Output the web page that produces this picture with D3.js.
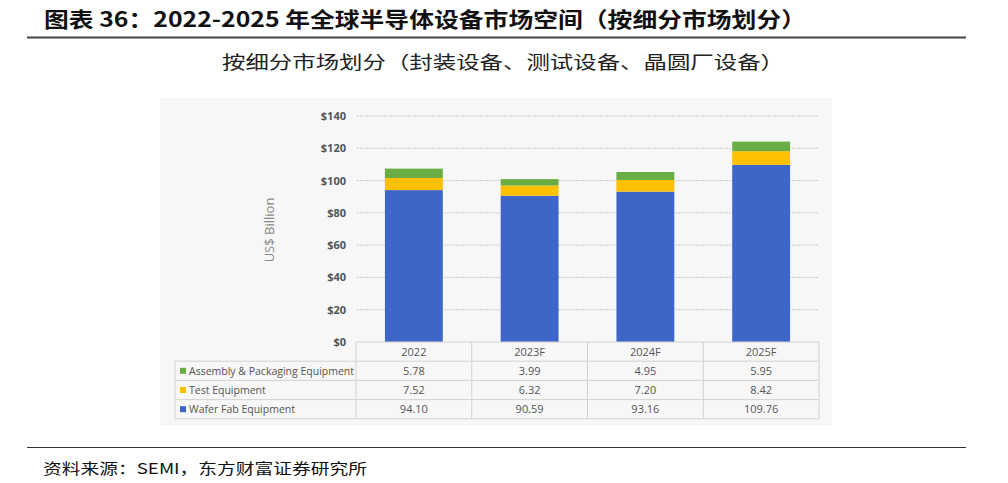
<!DOCTYPE html>
<html>
<head>
<meta charset="utf-8">
<script src="https://cdn.jsdelivr.net/npm/d3@7"></script>
<style>
  body { margin: 0; background: #fff; }
  svg { display: block; }
</style>
</head>
<body>
<script>
// Data
var categories = ["2022", "2023F", "2024F", "2025F"];
var seriesNames = ["Wafer Fab Equipment", "Test Equipment", "Assembly & Packaging Equipment"];
var waferFab = [94.10, 90.59, 93.16, 109.76];
var testEquip = [7.52, 6.32, 7.20, 8.42];
var assembly = [5.78, 3.99, 4.95, 5.95];
var yTicks = [0, 20, 40, 60, 80, 100, 120, 140];
var colors = ["#3d66c8", "#ffc000", "#6aad45"];

var width = 1008, height = 483;

var svg = d3.select("body").append("svg")
  .attr("width", width)
  .attr("height", height);

// Header
svg.append("text")
  .attr("x", 44).attr("y", 27)
  .attr("textLength", 762)
  .attr("lengthAdjust", "spacingAndGlyphs")
  .style("font-family", "'Noto Sans CJK SC', sans-serif")
  .style("font-weight", "bold")
  .style("font-size", "21px")
  .attr("fill", "#111")
  .text("图表 36：2022-2025 年全球半导体设备市场空间（按细分市场划分）");

svg.append("line")
  .attr("x1", 27).attr("x2", 966)
  .attr("y1", 37.5).attr("y2", 37.5)
  .attr("stroke", "#444").attr("stroke-width", 2);

svg.append("text")
  .attr("x", 222).attr("y", 69)
  .attr("textLength", 562)
  .attr("lengthAdjust", "spacingAndGlyphs")
  .style("font-family", "'Noto Sans CJK SC', sans-serif")
  .style("font-size", "18px")
  .attr("fill", "#222")
  .text("按细分市场划分（封装设备、测试设备、晶圆厂设备）");

// Chart panel
svg.append("rect")
  .attr("x", 160).attr("y", 98)
  .attr("width", 672).attr("height", 328)
  .attr("fill", "#f7f7f7");

// Scales
var x = d3.scaleBand()
  .domain(categories)
  .range([356, 819])
  .paddingInner(0.5)
  .paddingOuter(0.25);

var bandX = d3.scaleBand().domain(categories).range([356, 819]);

var y = d3.scaleLinear().domain([0, 140]).range([342, 116]);

// Gridlines
svg.append("g").selectAll("line")
  .data(yTicks.slice(1))
  .enter().append("line")
  .attr("x1", 357).attr("x2", 819)
  .attr("y1", function(d) { return y(d); })
  .attr("y2", function(d) { return y(d); })
  .attr("stroke", "#c9c9c9")
  .attr("stroke-dasharray", "2,1");

// Y axis labels
var yAxis = d3.axisLeft(y).tickValues(yTicks).tickSize(0).tickPadding(10)
  .tickFormat(function(d) { return "$" + d; });
var yg = svg.append("g").attr("transform", "translate(356,0)").call(yAxis);
yg.select(".domain").remove();
yg.selectAll("text")
  .style("font-family", "'Open Sans', sans-serif")
  .style("font-size", "11px")
  .style("font-weight", "bold")
  .attr("fill", "#555");

svg.append("text")
  .attr("transform", "translate(274,230) rotate(-90)")
  .attr("text-anchor", "middle")
  .style("font-family", "'Open Sans', sans-serif")
  .style("font-size", "13px")
  .attr("fill", "#888")
  .text("US$ Billion");

// Stacked bars
var rows = categories.map(function(c, i) {
  return { cat: c, wafer: waferFab[i], test: testEquip[i], assembly: assembly[i] };
});
var stack = d3.stack().keys(["wafer", "test", "assembly"]);
var layers = stack(rows);

svg.append("g").selectAll("g")
  .data(layers)
  .enter().append("g")
  .attr("fill", function(d, i) { return colors[i]; })
  .selectAll("rect")
  .data(function(d) { return d; })
  .enter().append("rect")
  .attr("x", function(d) { return x(d.data.cat); })
  .attr("width", x.bandwidth())
  .attr("y", function(d) { return y(d[1]); })
  .attr("height", function(d) { return y(d[0]) - y(d[1]); });

// Data table
var rowH = 19.2;
var tableTop = 342;
var leftX = 175;
var tableRows = [
  { name: seriesNames[2], vals: assembly, color: colors[2] },
  { name: seriesNames[1], vals: testEquip, color: colors[1] },
  { name: seriesNames[0], vals: waferFab, color: colors[0] }
];
var tg = svg.append("g");
var gridStroke = "#d2d2d2";

tg.append("line").attr("x1", 356).attr("x2", 819).attr("y1", tableTop).attr("y2", tableTop)
  .attr("stroke", gridStroke);
for (var r = 1; r <= 4; r++) {
  tg.append("line")
    .attr("x1", leftX).attr("x2", 819)
    .attr("y1", tableTop + r * rowH).attr("y2", tableTop + r * rowH)
    .attr("stroke", gridStroke);
}
tg.append("line").attr("x1", leftX).attr("x2", leftX)
  .attr("y1", tableTop + rowH).attr("y2", tableTop + 4 * rowH).attr("stroke", gridStroke);
categories.concat(["end"]).forEach(function(c, i) {
  var xx = i < categories.length ? bandX(c) : 819;
  tg.append("line").attr("x1", xx).attr("x2", xx)
    .attr("y1", tableTop).attr("y2", tableTop + 4 * rowH).attr("stroke", gridStroke);
});

var tableFont = "'Open Sans', sans-serif";
tg.selectAll(".cathead")
  .data(categories)
  .enter().append("text")
  .attr("x", function(d) { return bandX(d) + bandX.bandwidth() / 2; })
  .attr("y", tableTop + rowH / 2 + 4)
  .attr("text-anchor", "middle")
  .style("font-family", tableFont)
  .style("font-size", "11px")
  .attr("fill", "#555")
  .text(function(d) { return d; });

tableRows.forEach(function(row, ri) {
  var cy = tableTop + (ri + 1) * rowH + rowH / 2;
  tg.append("rect")
    .attr("x", 180).attr("y", cy - 3)
    .attr("width", 6).attr("height", 6)
    .attr("fill", row.color);
  tg.append("text")
    .attr("x", 189).attr("y", cy + 4)
    .style("font-family", tableFont)
    .style("font-size", "10.5px")
    .attr("fill", "#555")
    .text(row.name);
  tg.selectAll(null)
    .data(row.vals)
    .enter().append("text")
    .attr("x", function(d, i) { return bandX(categories[i]) + bandX.bandwidth() / 2; })
    .attr("y", cy + 4)
    .attr("text-anchor", "middle")
    .style("font-family", tableFont)
    .style("font-size", "11px")
    .attr("fill", "#555")
    .text(function(d) { return d.toFixed(2); });
});

// Footer
svg.append("line")
  .attr("x1", 27).attr("x2", 966)
  .attr("y1", 447.5).attr("y2", 447.5)
  .attr("stroke", "#333").attr("stroke-width", 1.2);

svg.append("text")
  .attr("x", 43).attr("y", 474)
  .attr("textLength", 324)
  .attr("lengthAdjust", "spacingAndGlyphs")
  .style("font-family", "'Noto Sans CJK SC', sans-serif")
  .style("font-size", "15px")
  .attr("fill", "#111")
  .text("资料来源：SEMI，东方财富证券研究所");
</script>
</body>
</html>
